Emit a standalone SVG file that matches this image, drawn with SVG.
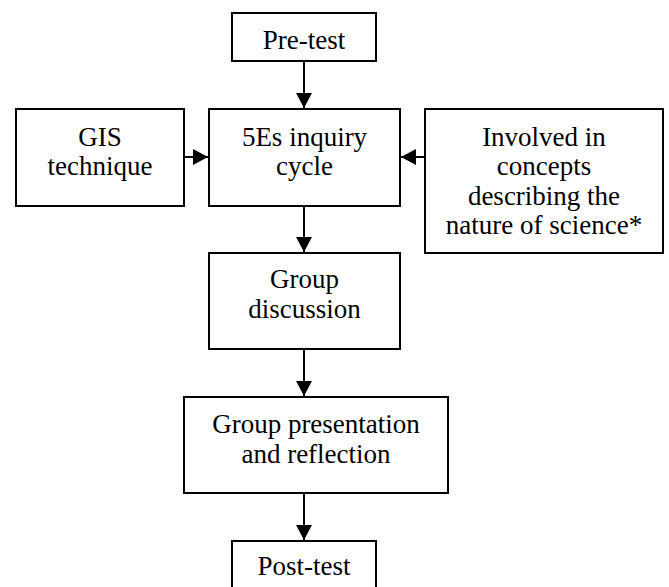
<svg xmlns="http://www.w3.org/2000/svg" width="669" height="587" viewBox="0 0 669 587">
<defs>
<marker id="ah" viewBox="0 0 15 16" refX="15" refY="8" markerWidth="15" markerHeight="16" markerUnits="userSpaceOnUse" orient="auto">
<path d="M0,0 L15,8 L0,16 Z" fill="#000"/>
</marker>
</defs>
<style>
rect{fill:#fff;stroke:#000;stroke-width:2}
text{font-family:"Liberation Serif","Times New Roman",serif;font-size:27px;fill:#000;text-anchor:middle}
.c{stroke:#000;stroke-width:2;fill:none;marker-end:url(#ah)}
</style>
<rect x="0" y="0" width="669" height="587" style="stroke:none"/>
<g id="connectors">
<line class="c" x1="304" y1="61" x2="304" y2="108"/>
<line class="c" x1="184" y1="157" x2="208" y2="157"/>
<line class="c" x1="425" y1="157" x2="401" y2="157"/>
<line class="c" x1="304" y1="206" x2="304" y2="252"/>
<line class="c" x1="304" y1="349" x2="304" y2="396"/>
<line class="c" x1="304" y1="493" x2="304" y2="540"/>
</g>
<g id="pretest">
<rect x="232" y="13" width="144" height="48"/>
<text x="304" y="49">Pre-test</text>
</g>
<g id="gis">
<rect x="16" y="109" width="168" height="97"/>
<text x="100" y="146">GIS</text>
<text x="100" y="175">technique</text>
</g>
<g id="inquiry">
<rect x="209" y="109" width="191" height="97"/>
<text x="304.5" y="146">5Es inquiry</text>
<text x="304.5" y="175">cycle</text>
</g>
<g id="nature">
<rect x="425" y="109" width="238" height="144"/>
<text x="544" y="146">Involved in</text>
<text x="544" y="175">concepts</text>
<text x="544" y="205">describing the</text>
<text x="544" y="234">nature of science*</text>
</g>
<g id="discussion">
<rect x="209" y="253" width="191" height="96"/>
<text x="304.5" y="288">Group</text>
<text x="304.5" y="318">discussion</text>
</g>
<g id="presentation">
<rect x="184" y="397" width="264" height="96"/>
<text x="316" y="433">Group presentation</text>
<text x="316" y="463">and reflection</text>
</g>
<g id="posttest">
<rect x="232" y="541" width="144" height="60"/>
<text x="304" y="575">Post-test</text>
</g>
</svg>
